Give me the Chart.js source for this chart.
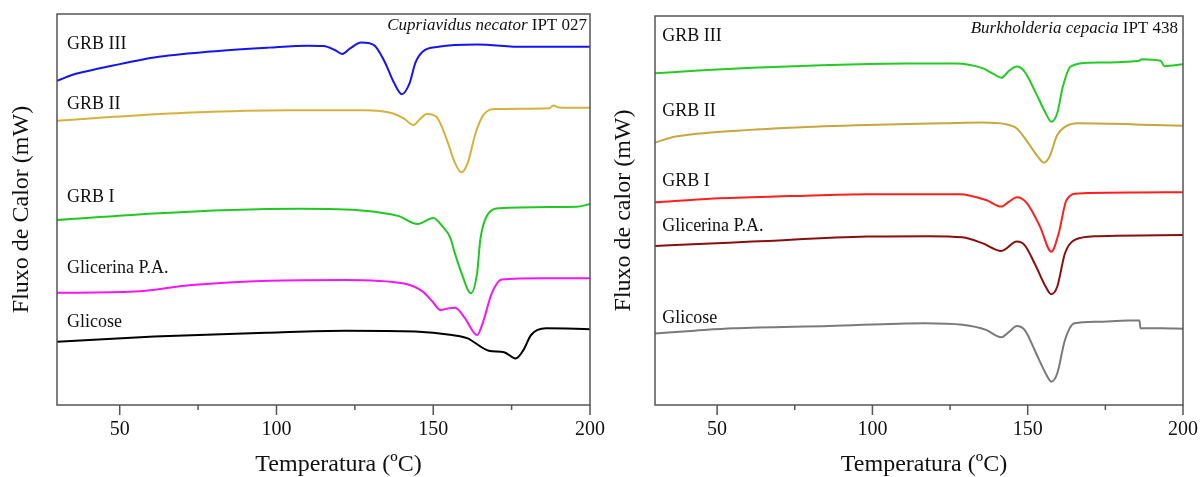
<!DOCTYPE html>
<html>
<head>
<meta charset="utf-8">
<script src="https://cdn.jsdelivr.net/npm/chart.js@4.4.1/dist/chart.umd.min.js"></script>
<style>
  html, body { margin: 0; padding: 0; background: #fff; }
  #wrap { position: relative; width: 1200px; height: 477px; overflow: hidden; }
  #left { position: absolute; left: 0; top: 0; }
  #right { position: absolute; left: 600px; top: 0; }
</style>
</head>
<body>
<div id="wrap">
  <canvas id="left" width="620" height="477"></canvas>
  <canvas id="right" width="600" height="477"></canvas>
</div>
<script>
// x ticks
const majorTicks = [50, 100, 150, 200];
const minorTicks = [75, 125, 175];

// Cupriavidus necator IPT 027 (left)
const cnGrb3T = [30, 36, 43.7, 61, 79, 97.5, 110, 115, 118.6, 121, 123.5, 127, 131, 134.5, 137.5, 140, 142.5, 144.3, 146.7, 151.7, 164, 178.7, 200];
const cnGrb3F = [8.29, 8.47, 8.61, 8.89, 9.04, 9.14, 9.19, 9.18, 9.08, 8.98, 9.12, 9.27, 9.21, 8.78, 8.24, 7.95, 8.24, 8.75, 9.04, 9.16, 9.22, 9.16, 9.16];
const cnGrb2T = [30, 48, 73, 103.6, 128, 137, 140.6, 143.7, 145.5, 148, 151, 154, 157, 159, 161, 163.5, 166, 170, 187, 188.3, 190, 200];
const cnGrb2F = [7.27, 7.37, 7.48, 7.54, 7.54, 7.46, 7.33, 7.16, 7.29, 7.44, 7.37, 6.86, 6.18, 5.95, 6.19, 6.95, 7.42, 7.57, 7.59, 7.66, 7.61, 7.60];
const cnGrb1T = [30, 61, 85.5, 107.5, 128, 139, 145, 150, 153, 155.5, 156.6, 159, 162, 164, 165, 167, 171, 195.8, 200];
const cnGrb1F = [4.73, 4.90, 4.99, 5.02, 4.97, 4.83, 4.63, 4.78, 4.56, 4.27, 3.96, 3.38, 2.86, 3.38, 4.22, 4.82, 5.03, 5.07, 5.14];
const cnGlicT = [30, 54.7, 73, 97.5, 122, 140.7, 146.7, 149.8, 152.3, 154.7, 157, 160.1, 164, 165.6, 168.7, 171.8, 185.2, 200];
const cnGlicF = [2.87, 2.90, 3.07, 3.18, 3.20, 3.11, 2.90, 2.64, 2.43, 2.47, 2.49, 2.22, 1.79, 2.05, 2.86, 3.21, 3.24, 3.24];
const cnGlcT = [30, 61, 97.5, 122, 144.3, 156, 160.8, 167.7, 172.6, 176.3, 178.8, 181.2, 186, 200];
const cnGlcF = [1.62, 1.75, 1.85, 1.90, 1.88, 1.79, 1.71, 1.39, 1.35, 1.19, 1.41, 1.79, 1.96, 1.94];

// Burkholderia cepacia IPT 438 (right)
const bcGrb3T = [30, 42.8, 61.3, 86, 110.6, 126.8, 135.4, 139, 141.5, 144, 146.5, 149, 152.7, 155.8, 157.6, 159.5, 161.3, 163.8, 170, 186, 186.6, 192.8, 194, 200];
const bcGrb3F = [8.53, 8.59, 8.67, 8.74, 8.78, 8.78, 8.66, 8.51, 8.41, 8.59, 8.70, 8.57, 8.01, 7.50, 7.28, 7.50, 8.18, 8.70, 8.80, 8.85, 8.89, 8.85, 8.71, 8.76];
const bcGrb2T = [30, 36.6, 49, 73.5, 98.3, 123, 135.4, 142.8, 146.5, 150.2, 153.3, 155.2, 157, 159.5, 162, 166.3, 191, 200];
const bcGrb2F = [6.75, 6.90, 7.01, 7.13, 7.20, 7.24, 7.26, 7.22, 7.11, 6.73, 6.38, 6.23, 6.38, 6.94, 7.15, 7.24, 7.20, 7.18];
const bcGrb1T = [30, 49, 73.5, 98.3, 128, 136.6, 141.5, 144, 146.5, 149.6, 154, 157.6, 160, 162.5, 166.3, 184.8, 200];
const bcGrb1F = [5.21, 5.31, 5.37, 5.42, 5.42, 5.27, 5.10, 5.23, 5.34, 5.20, 4.58, 3.94, 4.42, 5.27, 5.44, 5.46, 5.47];
const bcGlicT = [30, 44, 61.3, 98.3, 118, 129, 135.4, 141.5, 146.5, 149, 152.7, 155.8, 157.6, 159.5, 162, 165, 172.4, 200];
const bcGlicF = [4.09, 4.14, 4.20, 4.33, 4.34, 4.31, 4.16, 3.96, 4.20, 4.11, 3.56, 3.04, 2.85, 3.04, 3.90, 4.24, 4.34, 4.37];
const bcGlcT = [30, 42.8, 55.2, 86, 116.8, 129, 136.6, 141.5, 144, 146.5, 149, 152.7, 155.8, 157.6, 159.5, 162, 165, 172.4, 182.3, 186, 186.3, 193.4, 200];
const bcGlcF = [1.84, 1.91, 1.97, 2.03, 2.10, 2.06, 1.93, 1.74, 1.88, 2.03, 1.93, 1.33, 0.81, 0.60, 0.81, 1.67, 2.10, 2.14, 2.17, 2.17, 1.97, 1.97, 1.96];

// curve labels: [text, temperature, flux]
const cnLabels = [['GRB III', 33.2, 9.23], ['GRB II', 33.2, 7.70], ['GRB I', 33.2, 5.32], ['Glicerina P.A.', 33.2, 3.50], ['Glicose', 33.2, 2.12]];
const bcLabels = [['GRB III', 32.3, 9.49], ['GRB II', 32.3, 7.56], ['GRB I', 32.3, 5.76], ['Glicerina P.A.', 32.3, 4.60], ['Glicose', 32.3, 2.24]];

const serif = "'Liberation Serif', 'Times New Roman', serif";

function pts(t, f) { return t.map((x, i) => ({ x, y: f[i] })); }
function line(t, f, color) {
  return { data: pts(t, f), borderColor: color, borderWidth: 2, pointRadius: 0, cubicInterpolationMode: 'monotone', fill: false };
}

const decorPlugin = {
  id: 'decor',
  afterDraw(chart, args, opts) {
    const { ctx, chartArea: a, scales: { x, y } } = chart;
    ctx.save();
    ctx.strokeStyle = '#555';
    ctx.lineWidth = 1.5;
    ctx.strokeRect(a.left, a.top, a.right - a.left, a.bottom - a.top);
    ctx.beginPath();
    majorTicks.forEach((v) => { const px = x.getPixelForValue(v); ctx.moveTo(px, a.bottom); ctx.lineTo(px, a.bottom + 10); });
    minorTicks.forEach((v) => { const px = x.getPixelForValue(v); ctx.moveTo(px, a.bottom); ctx.lineTo(px, a.bottom + 5); });
    ctx.stroke();
    ctx.fillStyle = '#111';
    ctx.textBaseline = 'middle';
    ctx.textAlign = 'left';
    ctx.font = '18px ' + serif;
    opts.labels.forEach(([txt, t, f]) => ctx.fillText(txt, x.getPixelForValue(t), y.getPixelForValue(f)));
    // x-axis title
    ctx.textAlign = 'center';
    ctx.font = '24px ' + serif;
    ctx.fillText('Temperatura (ºC)', (a.left + a.right) / 2 + opts.xTitleDx, chart.height - 12);
    // species title, top right
    ctx.textAlign = 'left';
    ctx.font = '17px ' + serif;
    const plain = ' ' + opts.strain;
    const wPlain = ctx.measureText(plain).width;
    ctx.font = 'italic 17px ' + serif;
    const wIt = ctx.measureText(opts.species).width;
    const x0 = a.right - opts.titleInset - wPlain - wIt;
    ctx.fillText(opts.species, x0, a.top + opts.titleDy);
    ctx.font = '17px ' + serif;
    ctx.fillText(plain, x0 + wIt, a.top + opts.titleDy);
    ctx.restore();
  },
};

function makeChart(id, datasets, cfg) {
  new Chart(document.getElementById(id), {
    type: 'line',
    data: { datasets },
    plugins: [decorPlugin],
    options: {
      responsive: false,
      animation: false,
      layout: { padding: { top: cfg.top, right: cfg.right, left: 0, bottom: 0 } },
      plugins: {
        legend: { display: false },
        tooltip: { enabled: false },
        decor: { labels: cfg.labels, species: cfg.species, strain: cfg.strain, titleInset: cfg.titleInset, titleDy: cfg.titleDy, xTitleDx: cfg.xTitleDx },
      },
      scales: {
        x: {
          type: 'linear', min: 30, max: 200,
          afterBuildTicks: (s) => { s.ticks = majorTicks.map((v) => ({ value: v })); },
          afterFit: (s) => { s.height = 72; s.paddingLeft = 0; s.paddingRight = 0; },
          grid: { display: false, drawTicks: false },
          border: { display: false },
          ticks: { color: '#111', padding: 13, maxRotation: 0, font: { family: serif, size: 20 } },
          title: { display: false },
        },
        y: {
          min: 0, max: 10,
          afterFit: (s) => { s.width = cfg.yWidth; },
          grid: { display: false, drawTicks: false },
          border: { display: false },
          ticks: { display: false },
          title: { display: true, text: cfg.yTitle, color: '#111', font: { family: serif, size: 24, lineHeight: 1 }, padding: { top: cfg.yTitlePad, bottom: 0 } },
        },
      },
    },
  });
}

makeChart('left', [
  line(cnGrb3T, cnGrb3F, '#1414f5'),
  line(cnGrb2T, cnGrb2F, '#d6b23c'),
  line(cnGrb1T, cnGrb1F, '#22c822'),
  line(cnGlicT, cnGlicF, '#f515f5'),
  line(cnGlcT, cnGlcF, '#000000'),
], { top: 14, right: 30, yWidth: 57, yTitle: 'Fluxo de Calor (mW)', yTitlePad: 10, labels: cnLabels, species: 'Cupriavidus necator', strain: 'IPT 027', titleInset: 3, titleDy: 12, xTitleDx: 15 });

makeChart('right', [
  line(bcGrb3T, bcGrb3F, '#22cc22'),
  line(bcGrb2T, bcGrb2F, '#c9a73e'),
  line(bcGrb1T, bcGrb1F, '#ff1e1e'),
  line(bcGlicT, bcGlicF, '#8b0e0e'),
  line(bcGlcT, bcGlcF, '#7a7a7a'),
], { top: 16, right: 17, yWidth: 55, yTitle: 'Fluxo de calor (mW)', yTitlePad: 12, labels: bcLabels, species: 'Burkholderia cepacia', strain: 'IPT 438', titleInset: 5, titleDy: 13, xTitleDx: 5 });
</script>
</body>
</html>
